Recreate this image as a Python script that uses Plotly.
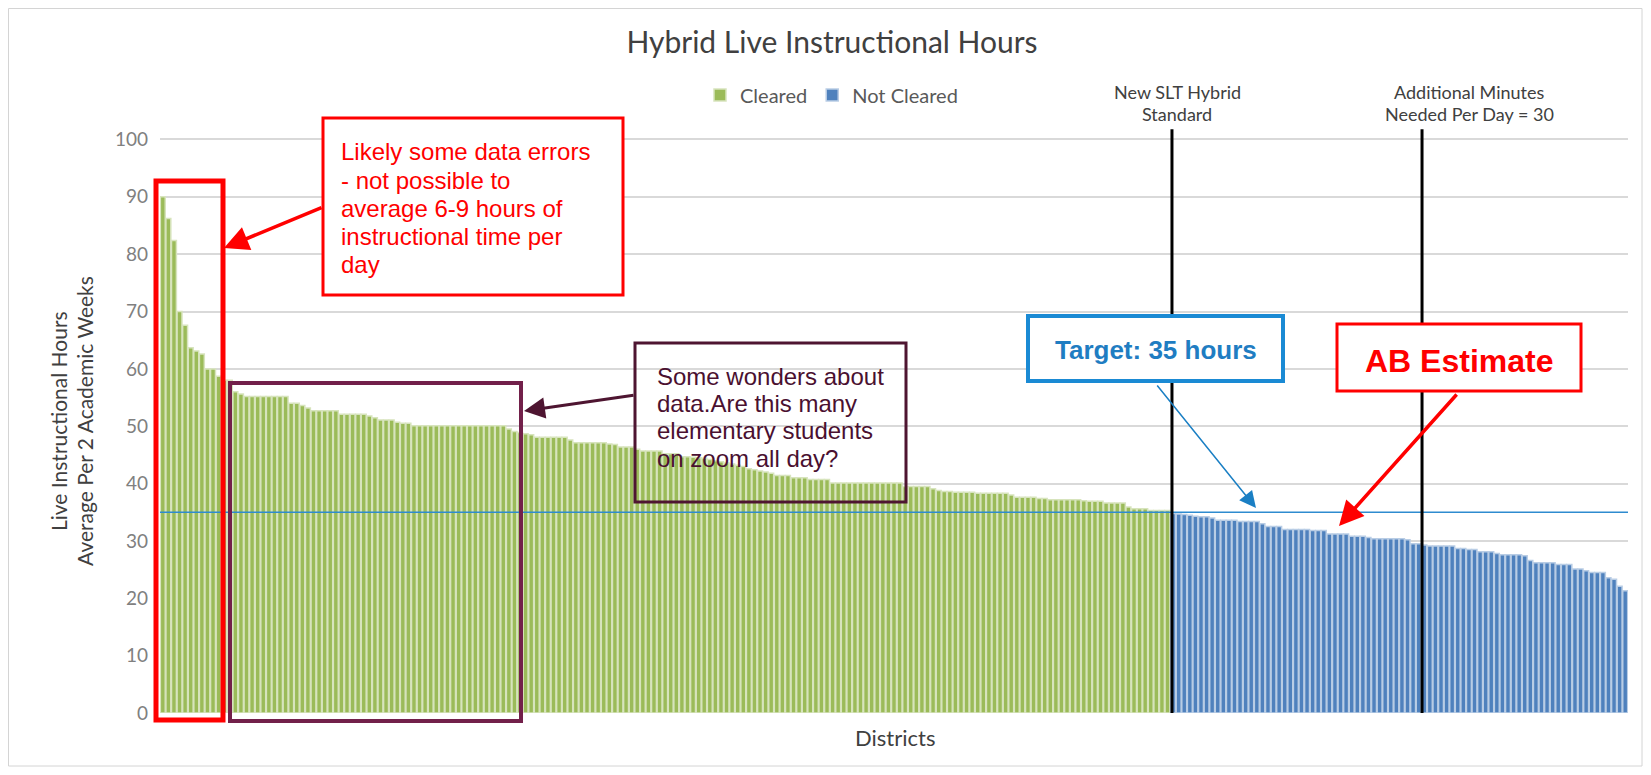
import plotly.graph_objects as go

# ---------------- data ----------------
cleared_hours = [
    90.0, 86.2, 82.4, 70.0, 67.6, 63.7, 63.1, 62.6, 60.0, 60.0,
    58.7, 58.0, 58.0, 56.0, 55.6, 55.2, 55.2, 55.2, 55.2, 55.2,
    55.2, 55.2, 55.2, 54.0, 54.0, 53.6, 53.2, 52.7, 52.7, 52.7,
    52.7, 52.7, 52.1, 52.1, 52.1, 52.1, 52.1, 51.8, 51.5, 51.1,
    51.1, 51.1, 50.7, 50.5, 50.5, 50.1, 50.1, 50.1, 50.1, 50.1,
    50.1, 50.1, 50.1, 50.1, 50.1, 50.1, 50.1, 50.1, 50.1, 50.1,
    50.1, 50.1, 49.5, 49.1, 48.9, 48.7, 48.5, 48.1, 48.1, 48.1,
    48.1, 48.1, 48.1, 47.6, 47.1, 47.1, 47.1, 47.1, 47.1, 47.1,
    46.9, 46.8, 46.4, 46.4, 46.4, 46.0, 45.7, 45.7, 45.7, 45.7,
    45.2, 45.2, 45.2, 44.7, 44.7, 44.6, 44.5, 44.4, 44.2, 44.0,
    43.8, 43.6, 43.4, 43.2, 43.0, 42.6, 42.4, 42.2, 42.0, 41.8,
    41.4, 41.4, 41.4, 41.0, 41.0, 41.0, 40.7, 40.7, 40.7, 40.7,
    40.1, 40.1, 40.1, 40.1, 40.1, 40.1, 40.1, 40.1, 40.1, 40.1,
    40.1, 40.1, 40.1, 39.5, 39.5, 39.5, 39.5, 39.5, 39.1, 38.8,
    38.6, 38.6, 38.5, 38.5, 38.5, 38.5, 38.3, 38.3, 38.3, 38.3,
    38.3, 38.3, 38.0, 37.6, 37.6, 37.6, 37.6, 37.4, 37.4, 37.2,
    37.2, 37.2, 37.2, 37.2, 37.2, 37.0, 36.9, 36.9, 36.9, 36.6,
    36.6, 36.6, 36.6, 35.9, 35.6, 35.6, 35.6, 35.3, 35.3, 35.3,
    35.3,
]
not_cleared_hours = [
    34.8, 34.7, 34.6, 34.5, 34.3, 34.2, 34.2, 34.0, 33.6, 33.6,
    33.6, 33.6, 33.4, 33.4, 33.4, 33.4, 33.0, 32.5, 32.5, 32.5,
    32.0, 32.0, 32.0, 32.0, 32.0, 31.8, 31.8, 31.8, 31.2, 31.2,
    31.2, 31.2, 30.8, 30.8, 30.8, 30.6, 30.4, 30.4, 30.4, 30.4,
    30.4, 30.4, 30.2, 29.5, 29.5, 29.3, 29.1, 29.1, 29.1, 29.1,
    29.1, 28.7, 28.7, 28.5, 28.5, 28.1, 28.1, 28.1, 27.8, 27.6,
    27.6, 27.6, 27.6, 27.4, 26.6, 26.2, 26.2, 26.2, 26.2, 25.9,
    25.9, 25.9, 25.1, 25.1, 24.8, 24.5, 24.5, 24.5, 23.6, 23.3,
    22.1, 21.3,
]
y_ticks = [0, 10, 20, 30, 40, 50, 60, 70, 80, 90, 100]
target_hours = 35
standard_pos = 180.8       # district rank where the new SLT hybrid standard line sits
extra_minutes_pos = 225.6  # district rank of the "additional minutes" line
line_top = 101.8

title_text = "Hybrid Live Instructional Hours"
y_title_lines = ["Live Instructional Hours", "Average Per 2 Academic Weeks"]
red_note_lines = ["Likely some data errors", "- not possible to", "average 6-9 hours of",
                  "instructional time per", "day"]
purple_note_lines = ["Some wonders about", "data.Are this many", "elementary students",
                     "on zoom all day?"]

n_c = len(cleared_hours)
n_n = len(not_cleared_hours)
x_c = list(range(n_c))
x_n = list(range(n_c, n_c + n_n))

# ---------------- layout geometry ----------------
# page has an 8px body margin, so the figure is laid out 8px in from the window corner
OFF = 8
W, H = 1651 - 2 * OFF, 775 - 2 * OFF
L, T = 160 - OFF, 128 - OFF
PW, PH = 1468, 585
R, B = W - L - PW, H - T - PH


def px(x):  # window pixel -> paper x
    return (x - OFF - L) / PW


def py(y):  # window pixel -> paper y
    return (T + PH - (y - OFF)) / PH


FONT = "Lato, 'Open Sans', sans-serif"
ARIAL = "'Liberation Sans', Arial, sans-serif"

fig = go.Figure()
fig.add_trace(go.Bar(
    x=x_c, y=cleared_hours, name="Cleared", width=0.88,
    marker=dict(color="#9BBB59", line=dict(color="#D7E4BD", width=1.5)),
))
fig.add_trace(go.Bar(
    x=x_n, y=not_cleared_hours, name="Not Cleared", width=0.88,
    marker=dict(color="#4F81BD", line=dict(color="#B9CDE5", width=1.5)),
))

shapes = [
    # outer frame
    dict(type="rect", xref="paper", yref="paper", x0=px(8.5), x1=px(1642), y0=py(766), y1=py(8.5),
         line=dict(color="#d4d4d4", width=1), fillcolor="rgba(0,0,0,0)", layer="below"),
    # target line
    dict(type="line", xref="x", yref="y", x0=-0.5, x1=n_c + n_n - 0.5, y0=target_hours, y1=target_hours,
         line=dict(color="#2E8BCF", width=1.5)),
    # vertical reference lines
    dict(type="line", xref="x", yref="y", x0=standard_pos, x1=standard_pos, y0=0, y1=line_top,
         line=dict(color="black", width=3)),
    dict(type="line", xref="x", yref="y", x0=extra_minutes_pos, x1=extra_minutes_pos, y0=0, y1=line_top,
         line=dict(color="black", width=3)),
    # red highlight around first bars
    dict(type="rect", xref="paper", yref="paper", x0=px(156), x1=px(223), y0=py(720), y1=py(181),
         line=dict(color="#ff0000", width=5), fillcolor="rgba(0,0,0,0)"),
    # purple highlight around bars
    dict(type="rect", xref="paper", yref="paper", x0=px(230), x1=px(521), y0=py(721), y1=py(383),
         line=dict(color="#72204A", width=4), fillcolor="rgba(0,0,0,0)"),
    # red text box
    dict(type="rect", xref="paper", yref="paper", x0=px(323), x1=px(623), y0=py(295), y1=py(118),
         line=dict(color="#ff0000", width=3), fillcolor="white"),
    # purple text box (background between grid and bars, border above)
    dict(type="rect", xref="paper", yref="paper", x0=px(635), x1=px(906), y0=py(502), y1=py(343),
         line=dict(width=0), fillcolor="white", layer="between"),
    dict(type="rect", xref="paper", yref="paper", x0=px(635), x1=px(906), y0=py(502), y1=py(343),
         line=dict(color="#4E1531", width=3), fillcolor="rgba(0,0,0,0)"),
    # target box
    dict(type="rect", xref="paper", yref="paper", x0=px(1028), x1=px(1283), y0=py(381), y1=py(316),
         line=dict(color="#1A8AD4", width=4), fillcolor="white"),
    # AB estimate box
    dict(type="rect", xref="paper", yref="paper", x0=px(1337), x1=px(1581), y0=py(391), y1=py(324),
         line=dict(color="#ff0000", width=3), fillcolor="white"),
]


def label(x, y, text, size, color, family=FONT, xanchor="center", angle=0):
    return dict(xref="paper", yref="paper", x=px(x), y=py(y), text=text, showarrow=False,
                xanchor=xanchor, yanchor="middle", textangle=angle,
                font=dict(family=family, size=size, color=color))


annotations = []
# y-axis title (two rotated lines)
for xpos, line in zip([58, 84], y_title_lines):
    annotations.append(label(xpos, 421, line, 21, "#404040", angle=-90))
# x-axis title
annotations.append(label(895, 737, "Districts", 22, "#404040"))
# vertical-line labels
annotations.append(label(1177, 92, "New SLT Hybrid", 18, "#404040"))
annotations.append(label(1177, 114, "Standard", 18, "#404040"))
annotations.append(label(1469, 92, "Additional Minutes", 18, "#404040"))
annotations.append(label(1469, 114, "Needed Per Day = 30", 18, "#404040"))
# red note
for i, line in enumerate(red_note_lines):
    annotations.append(label(339, 152 + 28.2 * i, line, 24, "#ff0000", family=ARIAL, xanchor="left"))
# purple note
for i, line in enumerate(purple_note_lines):
    annotations.append(label(655, 376 + 27.4 * i, line, 24, "#4A1030", family=ARIAL, xanchor="left"))
# target / AB text
annotations.append(label(1156, 350, "<b>Target: 35 hours</b>", 26, "#1F7DC2", family=ARIAL))
annotations.append(label(1459, 361, "<b>AB Estimate</b>", 32, "#ff0000", family=ARIAL))


def arrow(hx, hy, tx, ty, color, width, size):
    return dict(xref="paper", yref="paper", x=px(hx), y=py(hy), ax=tx - hx, ay=ty - hy,
                axref="pixel", ayref="pixel", text="", showarrow=True, arrowhead=2,
                arrowsize=size, arrowwidth=width, arrowcolor=color, standoff=0)


annotations += [
    arrow(224, 248, 323, 207, "#ff0000", 3.5, 1.4),
    arrow(524, 411, 635, 395, "#4E1531", 3, 1.4),
    arrow(1256, 508, 1156, 384, "#1A7FC4", 1.5, 2.2),
    arrow(1339, 526, 1458, 393, "#ff0000", 3.5, 1.4),
]

fig.update_layout(
    width=W, height=H,
    margin=dict(l=L, r=R, t=T, b=B, pad=0),
    paper_bgcolor="white", plot_bgcolor="white",
    barmode="overlay",
    title=dict(text=title_text, x=(832 - OFF) / W, y=1 - (42 - OFF) / H,
               xanchor="center", yanchor="middle", xref="container", yref="container",
               font=dict(family=FONT, size=30, color="#404040")),
    legend=dict(orientation="h", x=px(700), y=py(95), xanchor="left", yanchor="middle",
                font=dict(family=FONT, size=20, color="#595959"), itemwidth=30,
                bgcolor="rgba(0,0,0,0)", traceorder="normal"),
    xaxis=dict(range=[-0.5, n_c + n_n - 0.5], showticklabels=False, showgrid=False,
               zeroline=False, showline=False, ticks=""),
    yaxis=dict(range=[0, 102], tickvals=y_ticks, showgrid=True, gridcolor="#d9d9d9", gridwidth=1.5,
               zeroline=False, showline=False, ticks="", ticklabelstandoff=11,
               tickfont=dict(family=FONT, size=19, color="#808080")),
    shapes=shapes,
    annotations=annotations,
)

fig.write_html("out.html", config={"displayModeBar": False})
